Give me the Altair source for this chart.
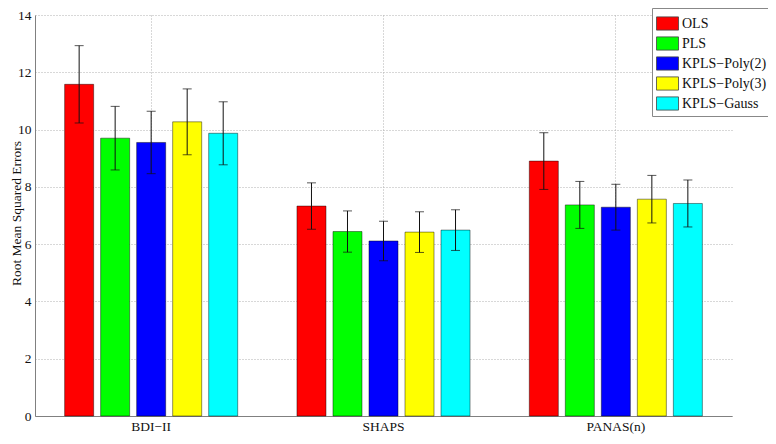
import altair as alt
import pandas as pd

groups = ["BDI−II", "SHAPS", "PANAS(n)"]
methods = ["OLS", "PLS", "KPLS−Poly(2)", "KPLS−Poly(3)", "KPLS−Gauss"]
colors = ["#ff0000", "#00ff00", "#0000ff", "#ffff00", "#00ffff"]

ols = [11.58, 7.33, 8.90]
pls = [9.70, 6.44, 7.37]
poly2 = [9.55, 6.11, 7.29]
poly3 = [10.27, 6.42, 7.57]
gauss = [9.87, 6.49, 7.42]

ols_err = [1.35, 0.81, 0.99]
pls_err = [1.11, 0.72, 0.82]
poly2_err = [1.09, 0.69, 0.80]
poly3_err = [1.15, 0.71, 0.83]
gauss_err = [1.10, 0.71, 0.82]

vals = [ols, pls, poly2, poly3, gauss]
errs = [ols_err, pls_err, poly2_err, poly3_err, gauss_err]

rows = []
for m, v, e in zip(methods, vals, errs):
    for g, vv, ee in zip(groups, v, e):
        rows.append({"group": g, "method": m, "value": vv, "err": ee})
df = pd.DataFrame(rows)

FONT = "Liberation Serif"

x_enc = alt.X(
    "group:N",
    sort=groups,
    scale=alt.Scale(paddingInner=0.225, paddingOuter=0.1125),
    axis=alt.Axis(
        title=None,
        labelAngle=0,
        grid=True,
        bandPosition=0.5,
        gridDash=[1, 2],
        gridColor="#b0b0b0",
        ticks=False,
        labelPadding=3,
    ),
)
xoff_enc = alt.XOffset(
    "method:N",
    sort=methods,
    scale=alt.Scale(paddingInner=0.194, paddingOuter=0.097),
)

base = alt.Chart(df).transform_calculate(
    lo="datum.value - datum.err", hi="datum.value + datum.err"
)

bars = base.mark_bar(stroke="#000000", strokeWidth=0.8, strokeOpacity=0.55).encode(
    x=x_enc,
    xOffset=xoff_enc,
    y=alt.Y(
        "value:Q",
        scale=alt.Scale(domain=[0, 14], nice=False),
        axis=alt.Axis(
            title="Root Mean Squared Errors",
            values=[0, 2, 4, 6, 8, 10, 12, 14],
            grid=True,
            gridDash=[1, 2],
            gridColor="#b0b0b0",
            ticks=False,
            labelPadding=4,
            titleX=-26,
            titleY=198,
            titleAngle=-90,
            titleBaseline="top",
            titleAlign="center",
            titleFontSize=13.5,
        ),
    ),
    color=alt.Color(
        "method:N",
        sort=methods,
        scale=alt.Scale(domain=methods, range=colors),
        legend=alt.Legend(
            title=None,
            orient="none",
            legendX=617,
            legendY=-7,
            symbolType="M-1,-0.6H1V0.6H-1Z",
            symbolSize=484,
            symbolStrokeColor="#444444",
            symbolStrokeWidth=0.8,
            symbolOpacity=1,
            labelFont=FONT,
            labelFontSize=14,
            labelColor="#111111",
            labelOffset=3,
            rowPadding=0,
            padding=4,
            strokeColor="#888888",
            fillColor="#ffffff",
        ),
    ),
)

rules = base.mark_rule(color="#111111", strokeWidth=1).encode(
    x=x_enc, xOffset=xoff_enc, y="lo:Q", y2="hi:Q"
)
cap_hi = base.mark_tick(color="#111111", thickness=1, size=9, orient="horizontal").encode(
    x=x_enc, xOffset=xoff_enc, y="hi:Q"
)
cap_lo = base.mark_tick(color="#111111", thickness=1, size=9, orient="horizontal").encode(
    x=x_enc, xOffset=xoff_enc, y="lo:Q"
)

chart = (
    alt.layer(bars, rules, cap_hi, cap_lo)
    .properties(
        width=697,
        height=401,
        padding={"left": 27, "top": 7, "right": 36, "bottom": 20},
        autosize=alt.AutoSizeParams(type="none"),
    )
    .configure_axis(
        labelFont=FONT,
        titleFont=FONT,
        labelFontSize=13.5,
        labelColor="#111111",
        titleColor="#111111",
        titleFontWeight="normal",
        domainColor="#808080",
        domainWidth=1,
    )
    .configure_view(stroke=None)
)

chart.save("out.html", embed_options={"renderer": "svg", "actions": False})
